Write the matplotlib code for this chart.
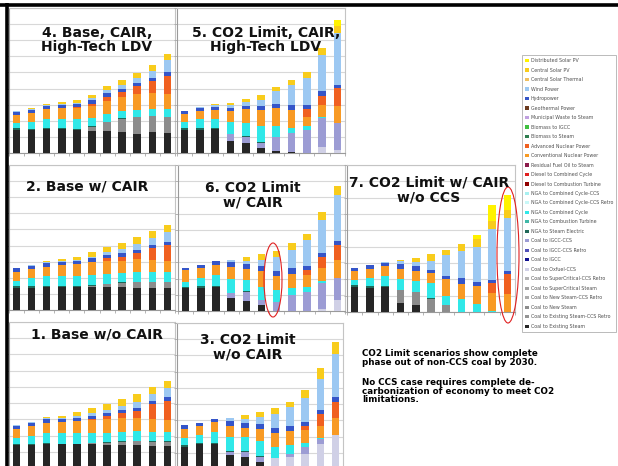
import matplotlib.pyplot as plt
from matplotlib.patches import Ellipse, Patch
import numpy as np

W, H = 618, 466

# legend order, top to bottom (stacks are drawn bottom-up = reversed)
techs = [
    ('Distributed Solar PV', '#fff200'),
    ('Central Solar PV', '#f8cc1c'),
    ('Central Solar Thermal', '#f0c060'),
    ('Wind Power', '#9cc8f2'),
    ('Hydropower', '#3555c8'),
    ('Geothermal Power', '#6b3a1f'),
    ('Municipal Waste to Steam', '#c0a0e0'),
    ('Biomass to IGCC', '#40c040'),
    ('Biomass to Steam', '#2e7d4f'),
    ('Advanced Nuclear Power', '#f06020'),
    ('Conventional Nuclear Power', '#f89a24'),
    ('Residual Fuel Oil to Steam', '#8b1a4a'),
    ('Diesel to Combined Cycle', '#e02020'),
    ('Diesel to Combustion Turbine', '#900000'),
    ('NGA to Combined Cycle-CCS', '#a8f0f0'),
    ('NGA to Combined Cycle-CCS Retro', '#c8f8f8'),
    ('NGA to Combined Cycle', '#30e8e8'),
    ('NGA to Combustion Turbine', '#40b8a8'),
    ('NGA to Steam Electric', '#206858'),
    ('Coal to IGCC-CCS', '#9c9cd4'),
    ('Coal to IGCC-CCS Retro', '#5050b8'),
    ('Coal to IGCC', '#101090'),
    ('Coal to Oxfuel-CCS', '#d0d0e6'),
    ('Coal to SuperCritical-CCS Retro', '#b4b4b4'),
    ('Coal to SuperCritical Steam', '#a4a4a4'),
    ('Coal to New Steam-CCS Retro', '#acacac'),
    ('Coal to New Steam', '#8c8c8c'),
    ('Coal to Existing Steam-CCS Retro', '#949494'),
    ('Coal to Existing Steam', '#262626'),
]

periods = list(range(2005, 2060, 5))

# 1. Base w/o CAIR
p1 = {
    'Coal to Existing Steam': [1.40, 1.40, 1.46, 1.46, 1.46, 1.46, 1.44, 1.42, 1.40, 1.38, 1.38],
    'Coal to New Steam': [0, 0, 0, 0, 0, 0.08, 0.12, 0.20, 0.25, 0.25, 0.25],
    'NGA to Steam Electric': [0.10, 0.08, 0.06, 0.05, 0.04, 0.03, 0.02, 0.02, 0.02, 0.02, 0.02],
    'NGA to Combined Cycle': [0.35, 0.50, 0.62, 0.65, 0.65, 0.60, 0.60, 0.60, 0.60, 0.60, 0.60],
    'Conventional Nuclear Power': [0.55, 0.60, 0.65, 0.65, 0.75, 0.80, 0.85, 0.85, 0.80, 0.80, 0.70],
    'Advanced Nuclear Power': [0, 0, 0, 0, 0, 0.05, 0.15, 0.30, 0.45, 0.90, 1.20],
    'Hydropower': [0.20] * 11,
    'Wind Power': [0.04, 0.04, 0.08, 0.08, 0.12, 0.14, 0.20, 0.25, 0.35, 0.40, 0.60],
    'Central Solar PV': [0, 0, 0.06, 0.10, 0.22, 0.32, 0.35, 0.39, 0.47, 0.42, 0.39],
}

# 2. Base w/ CAIR
p2 = {
    'Coal to Existing Steam': [1.38, 1.38, 1.44, 1.44, 1.44, 1.44, 1.44, 1.40, 1.38, 1.34, 1.38],
    'Coal to New Steam': [0, 0, 0, 0, 0, 0.08, 0.15, 0.30, 0.35, 0.40, 0.35],
    'NGA to Steam Electric': [0.10, 0.08, 0.06, 0.05, 0.04, 0.03, 0.02, 0.02, 0.02, 0.02, 0.02],
    'NGA to Combined Cycle': [0.35, 0.50, 0.60, 0.65, 0.65, 0.60, 0.60, 0.55, 0.60, 0.60, 0.60],
    'Conventional Nuclear Power': [0.55, 0.60, 0.60, 0.65, 0.70, 0.80, 0.85, 0.80, 0.80, 0.75, 0.70],
    'Advanced Nuclear Power': [0, 0, 0, 0, 0, 0.05, 0.15, 0.25, 0.40, 0.75, 1.00],
    'Hydropower': [0.20] * 11,
    'Wind Power': [0.03, 0.04, 0.06, 0.08, 0.10, 0.12, 0.20, 0.25, 0.35, 0.40, 0.60],
    'Central Solar PV': [0, 0.02, 0.06, 0.08, 0.16, 0.28, 0.29, 0.41, 0.43, 0.42, 0.40],
}

# 3. CO2 Limit w/o CAIR
p3 = {
    'Coal to Existing Steam': [1.37, 1.57, 1.57, 0.86, 0.75, 0.45, 0, 0, 0, 0, 0],
    'Coal to Oxfuel-CCS': [0, 0, 0, 0, 0, 0, 0.65, 0.75, 0.95, 1.57, 2.08],
    'Coal to IGCC-CCS': [0, 0, 0, 0.20, 0.30, 0.30, 0, 0.20, 0.40, 0.30, 0],
    'NGA to Steam Electric': [0.10, 0.06, 0.05, 0.05, 0.04, 0.03, 0, 0, 0, 0, 0],
    'NGA to Combined Cycle': [0.47, 0.44, 0.65, 0.85, 0.86, 0.97, 0.70, 0.50, 0.25, 0.06, 0],
    'Conventional Nuclear Power': [0.55, 0.60, 0.60, 0.70, 0.60, 0.70, 0.90, 0.92, 0.78, 0.75, 1.08],
    'Advanced Nuclear Power': [0, 0, 0, 0, 0, 0, 0, 0, 0.30, 0.70, 1.00],
    'Hydropower': [0.20, 0.19, 0.20, 0.30, 0.30, 0.30, 0.30, 0.30, 0.21, 0.25, 0.27],
    'Wind Power': [0, 0, 0.03, 0.20, 0.25, 0.45, 0.86, 1.14, 1.50, 1.92, 2.67],
    'Central Solar PV': [0, 0, 0, 0, 0.25, 0.31, 0.35, 0.35, 0.45, 0.67, 0.70],
}

# 4. Base, CAIR, High-Tech LDV
p4 = {
    'Coal to Existing Steam': [1.44, 1.40, 1.50, 1.48, 1.44, 1.34, 1.38, 1.28, 1.18, 1.28, 1.24],
    'Coal to New Steam': [0, 0, 0, 0, 0, 0.30, 0.55, 0.85, 1.05, 1.00, 1.00],
    'NGA to Steam Electric': [0.10, 0.08, 0.06, 0.05, 0.04, 0.03, 0.02, 0.02, 0.02, 0.02, 0.02],
    'NGA to Combined Cycle': [0.30, 0.45, 0.55, 0.60, 0.60, 0.50, 0.45, 0.45, 0.45, 0.45, 0.45],
    'Conventional Nuclear Power': [0.50, 0.55, 0.60, 0.65, 0.70, 0.75, 0.85, 0.85, 0.95, 0.95, 0.95],
    'Advanced Nuclear Power': [0, 0, 0, 0, 0.05, 0.15, 0.25, 0.35, 0.50, 0.75, 1.15],
    'Hydropower': [0.20, 0.20, 0.20, 0.20, 0.20, 0.20, 0.20, 0.20, 0.22, 0.22, 0.22],
    'Wind Power': [0.04, 0.05, 0.07, 0.08, 0.10, 0.14, 0.18, 0.25, 0.30, 0.40, 0.75],
    'Central Solar PV': [0, 0.05, 0.07, 0.09, 0.17, 0.20, 0.28, 0.29, 0.28, 0.37, 0.36],
}

# 5. CO2 Limit, CAIR, High-Tech LDV
p5 = {
    'Coal to Existing Steam': [1.45, 1.45, 1.50, 0.75, 0.60, 0.30, 0.10, 0.05, 0, 0, 0],
    'Coal to Oxfuel-CCS': [0, 0, 0, 0, 0, 0, 0, 0, 0, 0.40, 0.20],
    'Coal to IGCC-CCS': [0, 0, 0, 0.40, 0.40, 0.35, 0.90, 1.20, 1.45, 1.75, 1.65],
    'NGA to Steam Electric': [0.10, 0.08, 0.06, 0.05, 0.04, 0.03, 0.02, 0.02, 0, 0, 0],
    'NGA to Combined Cycle': [0.40, 0.55, 0.55, 0.70, 0.85, 1.00, 0.65, 0.30, 0.20, 0.10, 0],
    'Conventional Nuclear Power': [0.45, 0.50, 0.55, 0.70, 0.85, 1.00, 1.10, 1.10, 0.60, 0.70, 1.05],
    'Advanced Nuclear Power': [0, 0, 0, 0, 0, 0, 0, 0, 0.50, 0.60, 1.15],
    'Hydropower': [0.20, 0.20, 0.20, 0.20, 0.20, 0.25, 0.30, 0.30, 0.20, 0.30, 0.15],
    'Wind Power': [0.02, 0.05, 0.10, 0.15, 0.20, 0.37, 0.75, 1.25, 1.70, 2.25, 3.25],
    'Central Solar PV': [0, 0.02, 0.09, 0.14, 0.20, 0.27, 0.26, 0.32, 0.40, 0.40, 0.45],
    'Distributed Solar PV': [0, 0, 0, 0, 0, 0, 0, 0, 0, 0, 0.35],
}

# 6. CO2 Limit w/ CAIR
p6 = {
    'Coal to Existing Steam': [1.40, 1.44, 1.50, 0.82, 0.64, 0.40, 0, 0, 0, 0, 0],
    'Coal to Oxfuel-CCS': [0, 0, 0, 0, 0, 0, 0, 0, 0, 0.15, 0.68],
    'Coal to IGCC-CCS': [0, 0, 0, 0.27, 0.55, 0.27, 0.57, 1.00, 1.20, 1.55, 1.34],
    'NGA to Steam Electric': [0.10, 0.08, 0.06, 0.05, 0.04, 0.03, 0, 0, 0, 0, 0],
    'NGA to Combined Cycle': [0.30, 0.50, 0.65, 0.85, 0.66, 0.77, 0.70, 0.40, 0.30, 0.15, 0],
    'Conventional Nuclear Power': [0.70, 0.60, 0.60, 0.70, 0.70, 1.00, 0.90, 0.90, 0.70, 0.78, 1.13],
    'Advanced Nuclear Power': [0, 0, 0, 0, 0, 0, 0, 0, 0.30, 0.72, 0.93],
    'Hydropower': [0.18, 0.20, 0.25, 0.35, 0.30, 0.30, 0.30, 0.35, 0.28, 0.20, 0.25],
    'Wind Power': [0, 0.02, 0.02, 0.10, 0.20, 0.38, 0.88, 1.10, 1.60, 2.07, 2.84],
    'Central Solar PV': [0, 0, 0, 0, 0.26, 0.37, 0.37, 0.43, 0.37, 0.47, 0.55],
}

# 7. CO2 Limit w/ CAIR w/o CCS
p7 = {
    'Coal to Existing Steam': [1.53, 1.50, 1.53, 0.55, 0.40, 0, 0, 0, 0, 0, 0],
    'Coal to New Steam': [0, 0, 0, 0.77, 0.80, 0.80, 0.40, 0, 0, 0, 0],
    'NGA to Steam Electric': [0.10, 0.08, 0.06, 0.05, 0.04, 0.03, 0, 0, 0, 0, 0],
    'NGA to Combined Cycle': [0.30, 0.52, 0.64, 0.65, 0.66, 0.97, 0.60, 0.80, 0.47, 0.05, 0],
    'Conventional Nuclear Power': [0.60, 0.55, 0.60, 0.60, 0.60, 0.60, 1.00, 0.90, 1.15, 1.10, 1.10],
    'Advanced Nuclear Power': [0, 0, 0, 0, 0, 0, 0, 0, 0, 0.60, 1.20],
    'Hydropower': [0.18, 0.21, 0.20, 0.30, 0.30, 0.20, 0.20, 0.40, 0.20, 0.20, 0.20],
    'Wind Power': [0, 0, 0.03, 0.20, 0.25, 0.55, 1.27, 1.63, 2.17, 3.15, 3.24],
    'Central Solar PV': [0, 0, 0, 0.04, 0.28, 0.42, 0.35, 0.45, 0.45, 0.50, 0.50],
    'Distributed Solar PV': [0, 0, 0, 0, 0, 0, 0, 0, 0.25, 0.93, 0.90],
}

titles = {
    1: '1. Base w/o CAIR',
    2: '2. Base w/ CAIR',
    3: '3. CO2 Limit\nw/o CAIR',
    4: '4. Base, CAIR,\nHigh-Tech LDV',
    5: '5. CO2 Limit, CAIR,\nHigh-Tech LDV',
    6: '6. CO2 Limit\nw/ CAIR',
    7: '7. CO2 Limit w/ CAIR\nw/o CCS',
}

# panel boxes in pixels: left, top, right, bottom ; title centre
panels = [
    (p4, 4, (9, 8, 175, 153), (97, 40)),
    (p5, 5, (177, 8, 345, 153), (266, 40)),
    (p2, 2, (9, 165, 175, 310), (87, 186)),
    (p6, 6, (178, 165, 345, 311), (253, 195)),
    (p7, 7, (347, 165, 515, 312), (429, 190)),
    (p1, 1, (9, 322, 175, 468), (97, 335)),
    (p3, 3, (177, 323, 343, 469), (248, 347)),
]

plt.rcParams['font.family'] = ['DejaVu Sans']

fig = plt.figure(figsize=(W / 100, H / 100), dpi=100)

x = np.arange(len(periods))
for data, num, (l, t, r, b), (tx, ty) in panels:
    ax = fig.add_axes([l / W, 1 - b / H, (r - l) / W, (b - t) / H])
    bottom = np.zeros(len(periods))
    for name, col in techs[::-1]:
        if name not in data:
            continue
        vals = np.array(data[name])
        ax.bar(x, vals, 0.5, bottom=bottom, color=col, linewidth=0, zorder=3)
        bottom += vals
    ax.set_xlim(-0.45, 10.5)
    ax.set_ylim(0, 9)
    ax.set_yticks(range(10))
    ax.set_xticks(np.arange(-0.5, 11, 1))
    ax.grid(axis='y', color='#d8d8d8', lw=0.8, zorder=0)
    ax.tick_params(length=2, width=0.6, color='#a8a8a8', labelleft=False, labelbottom=False)
    for s in ax.spines.values():
        s.set_color('#c4c4c4')
        s.set_linewidth(0.8)
    ax.spines['left'].set_color('#9a9a9a')
    ax.spines['bottom'].set_color('#9a9a9a')

# overlay in pixel coordinates for the slide decorations
ov = fig.add_axes([0, 0, 1, 1], zorder=10)
ov.set_xlim(0, W)
ov.set_ylim(H, 0)
ov.axis('off')
ov.patch.set_alpha(0)

for data, num, box, (tx, ty) in panels:
    ov.text(tx, ty, titles[num], ha='center', va='center', fontsize=10,
            fontweight='bold', linespacing=1.02, color='#111111')

ov.plot([0, W], [4.5, 4.5], color='black', lw=2.6, solid_capstyle='butt')
ov.plot([6.5, 6.5], [3, H], color='black', lw=2.6, solid_capstyle='butt')

ov.add_patch(Ellipse((273, 280), 18, 74, fill=False, edgecolor='#e02020', lw=0.8))
ov.add_patch(Ellipse((508, 255), 22, 136, fill=False, edgecolor='#e02020', lw=0.8))

ov.text(362, 349, 'CO2 Limit scenarios show complete\nphase out of non-CCS coal by 2030.',
        ha='left', va='top', fontsize=6.3, fontweight='bold', linespacing=0.95)
ov.text(362, 378, 'No CCS case requires complete de-\ncarbonization of economy to meet CO2\nlimitations.',
        ha='left', va='top', fontsize=6.3, fontweight='bold', linespacing=0.95)

handles = [Patch(facecolor=c, edgecolor='none', label=n) for n, c in techs]
leg = fig.legend(handles=handles, loc='upper left',
                 bbox_to_anchor=(520 / W, 1 - 53 / H), bbox_transform=fig.transFigure,
                 fontsize=3.4, labelspacing=0.95, handlelength=0.7, handleheight=0.7,
                 handletextpad=0.5, borderpad=0.6, frameon=True, fancybox=False,
                 edgecolor='#b0b0b0', framealpha=1)
leg.get_frame().set_linewidth(0.6)
for txt in leg.get_texts():
    txt.set_color('#505050')

fig.savefig('out.png', dpi=100)
